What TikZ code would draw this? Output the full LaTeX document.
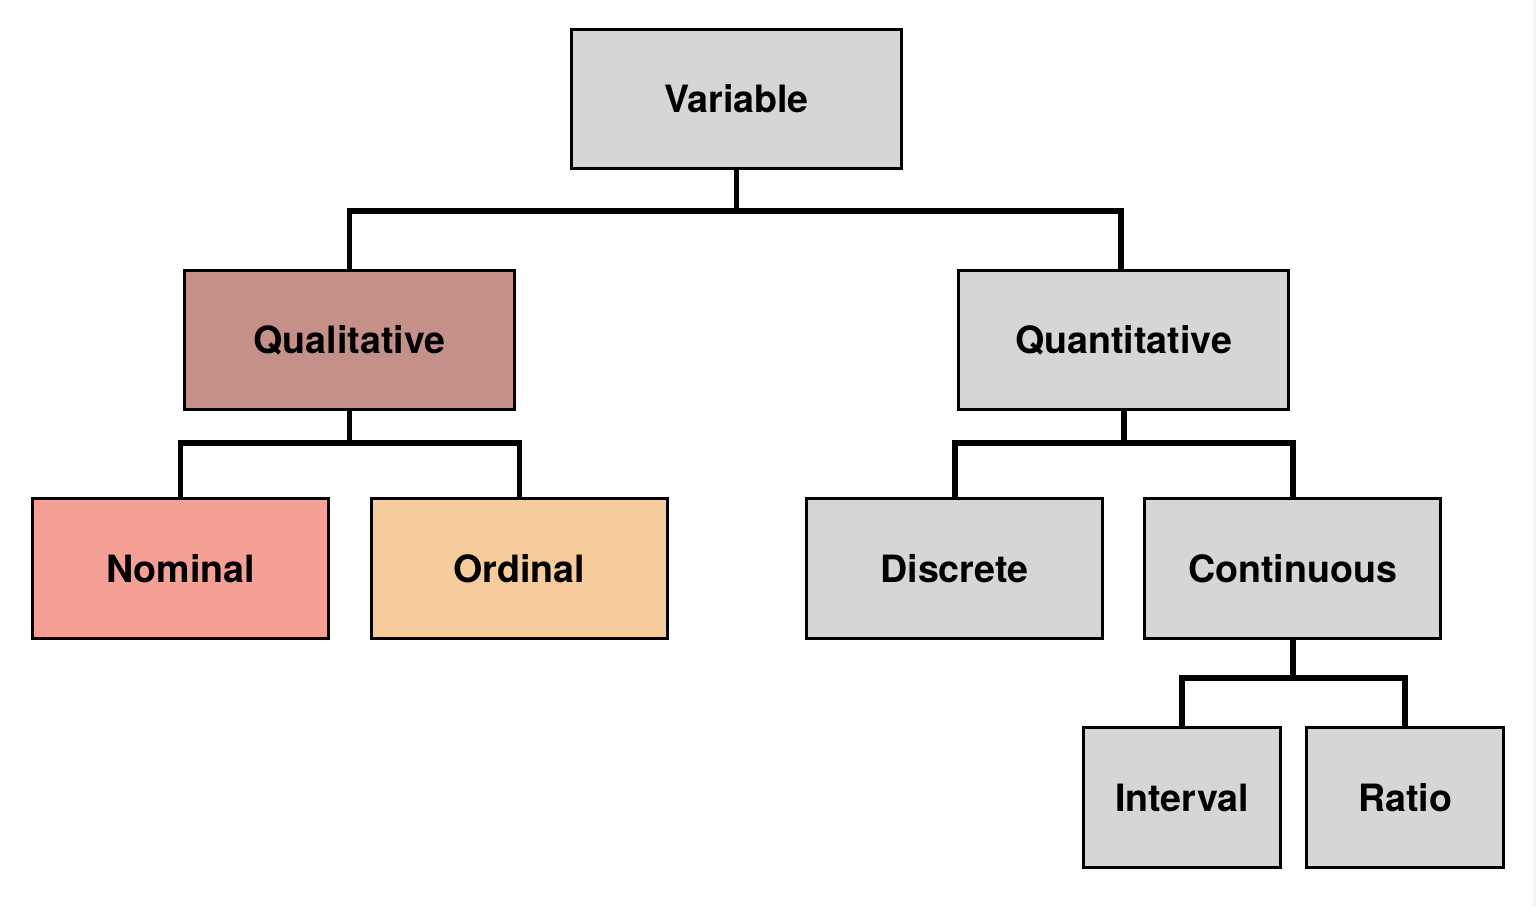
\documentclass[tikz,border=0pt]{standalone}
\usepackage{fontspec}
\setmainfont{TeX Gyre Heros}
\begin{document}
\begin{tikzpicture}[x=1cm,y=1cm,
  box/.style={draw=black, line width=0.95pt, inner sep=0pt,
    font=\fontsize{10.7}{12}\selectfont\bfseries, text=black},
  bigbox/.style={box, minimum width=3.30cm, minimum height=1.39cm},
  midbox/.style={box, minimum width=2.96cm, minimum height=1.40cm},
  smallbox/.style={box, minimum width=1.97cm, minimum height=1.40cm},
  link/.style={draw=black, line width=1.7pt, line join=miter}]
\definecolor{boxgrey}{HTML}{D6D6D6}
\definecolor{qualfill}{HTML}{C49088}
\definecolor{nomfill}{HTML}{F5A094}
\definecolor{ordfill}{HTML}{F7CC9C}
\definecolor{edgegrey}{HTML}{F4F4F4}
\useasboundingbox (0,0) rectangle (15.36,-9.06);
\fill[white] (0,0) rectangle (15.36,-9.06);
\fill[edgegrey] (15.33,0) rectangle (15.36,-9.06);

% tree nodes
\node[bigbox, fill=boxgrey]  (var)   at (7.365,-0.99) {Variable};
\node[bigbox, fill=qualfill] (qual)  at (3.495,-3.40) {Qualitative};
\node[bigbox, fill=boxgrey]  (quant) at (11.235,-3.40) {Quantitative};
\node[midbox, fill=nomfill]  (nom)   at (1.805,-5.685) {Nominal};
\node[midbox, fill=ordfill]  (ord)   at (5.195,-5.685) {Ordinal};
\node[midbox, fill=boxgrey]  (disc)  at (9.545,-5.685) {Discrete};
\node[midbox, fill=boxgrey]  (cont)  at (12.925,-5.685) {Continuous};
\node[smallbox, fill=boxgrey] (intv) at (11.82,-7.975) {Interval};
\node[smallbox, fill=boxgrey] (ratio) at (14.05,-7.975) {Ratio};

% bracket connectors
\draw[link] (var.south) -- ++(0,-0.41) coordinate (vb);
\draw[link] (qual.north) |- (vb) -| ([xshift=-0.03cm]quant.north);

\draw[link] (qual.south) -- ++(0,-0.32) coordinate (qb);
\draw[link] (nom.north) |- (qb) -| (ord.north);

\draw[link] (quant.south) -- ++(0,-0.32) coordinate (tb);
\draw[link] (disc.north) |- (tb) -| (cont.north);

\draw[link] (cont.south) -- ++(0,-0.38) coordinate (cb);
\draw[link] (intv.north) |- (cb) -| (ratio.north);
\end{tikzpicture}
\end{document}
